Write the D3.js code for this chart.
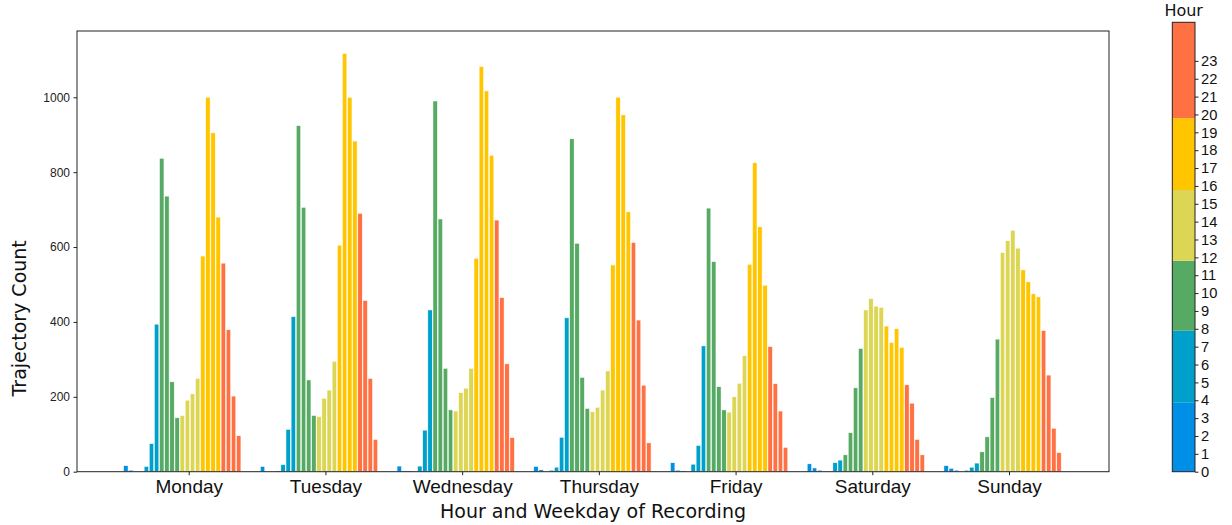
<!DOCTYPE html>
<html>
<head>
<meta charset="utf-8">
<script src="https://cdn.jsdelivr.net/npm/d3@7"></script>
<style>
  body { margin: 0; background: #fff; }
  svg { font-family: "DejaVu Sans", sans-serif; }
</style>
</head>
<body>
<div id="chart"></div>
<script>
const WIDTH = 1232;
const HEIGHT = 525;
const PLOT = { left: 77, right: 1109, top: 31, bottom: 471.7 };
const CBAR = { left: 1172.3, right: 1195, top: 22.3, bottom: 471.7 };
const DAY_STEP = 26.65;      // slots between the same hour on two days
const TICK_OFFSET = 13.26;   // where the weekday tick sits inside its group
const BAR_FILL = 0.86;

// --------------- Data ---------------
const days = ["Monday", "Tuesday", "Wednesday", "Thursday", "Friday", "Saturday", "Sunday"];
const hours = d3.range(24);

const monday    = [0, 16, 4, 0, 0, 14, 75, 394, 837, 736, 240, 144, 150, 191, 208, 249, 576, 1000, 905, 680, 557, 379, 202, 96];
const tuesday   = [0, 14, 0, 0, 2, 19, 113, 414, 924, 706, 245, 150, 147, 196, 218, 295, 605, 1117, 1000, 883, 690, 457, 249, 86];
const wednesday = [0, 15, 2, 2, 0, 15, 111, 432, 990, 675, 276, 165, 162, 211, 223, 276, 570, 1082, 1017, 845, 672, 465, 288, 91];
const thursday  = [0, 14, 5, 0, 4, 12, 92, 411, 889, 610, 252, 169, 160, 172, 218, 269, 552, 1000, 953, 694, 612, 405, 231, 77];
const friday    = [0, 24, 4, 2, 0, 20, 70, 336, 704, 561, 227, 165, 159, 200, 236, 310, 554, 825, 654, 498, 334, 235, 162, 65];
const saturday  = [0, 21, 10, 4, 0, 0, 24, 31, 45, 104, 224, 329, 432, 462, 442, 439, 389, 345, 382, 332, 232, 183, 86, 45];
const sunday    = [0, 16, 9, 4, 0, 4, 12, 23, 53, 93, 198, 354, 585, 617, 645, 597, 539, 507, 475, 467, 377, 258, 116, 51];

const yTicks = [0, 200, 400, 600, 800, 1000];
const cbarEdges = [0, 3.86, 7.89, 11.81, 15.77, 19.79, 25.16];

const groupColors = ["#008fe6", "#00a0cc", "#56aa64", "#dcd654", "#ffc600", "#ff7043"];

const counts = [monday, tuesday, wednesday, thursday, friday, saturday, sunday];
const bars = [];
counts.forEach((row, d) => {
  row.forEach((v, h) => bars.push({ day: d, hour: h, value: v }));
});

// --------------- Step 1 ---------------
// SVG and scales
const svg = d3
  .select("#chart")
  .append("svg")
  .attr("width", WIDTH)
  .attr("height", HEIGHT);

const x = d3.scaleLinear().domain([-8.52, 192.65]).range([PLOT.left, PLOT.right]);
const y = d3.scaleLinear().domain([0, 1177]).range([PLOT.bottom, PLOT.top]);
const color = h => groupColors[Math.floor(h / 4)];
const barW = (x(1) - x(0)) * BAR_FILL;

// --------------- Step 2 ---------------
// Bars
svg
  .append("g")
  .selectAll("rect")
  .data(bars)
  .enter()
  .append("rect")
  .attr("x", d => x(d.day * DAY_STEP + d.hour) - barW / 2)
  .attr("y", d => y(d.value))
  .attr("width", barW)
  .attr("height", d => y(0) - y(d.value))
  .attr("fill", d => color(d.hour))
  .attr("stroke", "#fff")
  .attr("stroke-width", 0.5);

// --------------- Step 3 ---------------
// Axes and frame
const yAxis = svg
  .append("g")
  .attr("transform", `translate(${PLOT.left},0)`)
  .call(d3.axisLeft(y).tickValues(yTicks).tickFormat(d3.format("d")).tickSize(3.5).tickPadding(3.5));

yAxis.select(".domain").remove();
yAxis.selectAll("text").attr("font-size", 12).attr("fill", "#222");
yAxis.selectAll("line").attr("stroke", "#222");

const xAxis = svg
  .append("g")
  .attr("transform", `translate(0,${PLOT.bottom})`)
  .call(
    d3.axisBottom(x)
      .tickValues(days.map((d, i) => i * DAY_STEP + TICK_OFFSET))
      .tickFormat((d, i) => days[i])
      .tickSize(3.5)
      .tickPadding(4.5)
  );

xAxis.select(".domain").remove();
xAxis.selectAll("text").attr("font-size", 19).attr("fill", "#111");
xAxis.selectAll("line").attr("stroke", "#222");

svg
  .append("rect")
  .attr("x", PLOT.left)
  .attr("y", PLOT.top)
  .attr("width", PLOT.right - PLOT.left)
  .attr("height", PLOT.bottom - PLOT.top)
  .attr("fill", "none")
  .attr("stroke", "#222")
  .attr("stroke-width", 1);

svg
  .append("text")
  .attr("x", (PLOT.left + PLOT.right) / 2)
  .attr("y", 518)
  .attr("text-anchor", "middle")
  .attr("font-size", 19)
  .attr("fill", "#111")
  .text("Hour and Weekday of Recording");

svg
  .append("text")
  .attr("transform", `translate(26,${(PLOT.top + PLOT.bottom) / 2 + 67}) rotate(-90)`)
  .attr("text-anchor", "middle")
  .attr("font-size", 19)
  .attr("fill", "#111")
  .text("Trajectory Count");

// --------------- Step 4 ---------------
// Colour bar on the right
const cb = d3.scaleLinear().domain([0, 25.16]).range([CBAR.bottom, CBAR.top]);

svg
  .append("g")
  .selectAll("rect")
  .data(groupColors)
  .enter()
  .append("rect")
  .attr("x", CBAR.left)
  .attr("y", (c, i) => cb(cbarEdges[i + 1]))
  .attr("width", CBAR.right - CBAR.left)
  .attr("height", (c, i) => cb(cbarEdges[i]) - cb(cbarEdges[i + 1]))
  .attr("fill", c => c);

svg
  .append("rect")
  .attr("x", CBAR.left)
  .attr("y", CBAR.top)
  .attr("width", CBAR.right - CBAR.left)
  .attr("height", CBAR.bottom - CBAR.top)
  .attr("fill", "none")
  .attr("stroke", "#222")
  .attr("stroke-width", 1);

const cbAxis = svg
  .append("g")
  .attr("transform", `translate(${CBAR.right},0)`)
  .call(d3.axisRight(cb).tickValues(hours).tickSize(3.5).tickPadding(2.5));

cbAxis.select(".domain").remove();
cbAxis.selectAll("text").attr("font-size", 14.7).attr("fill", "#111");
cbAxis.selectAll("line").attr("stroke", "#222");

svg
  .append("text")
  .attr("x", (CBAR.left + CBAR.right) / 2)
  .attr("y", 16)
  .attr("text-anchor", "middle")
  .attr("font-size", 16)
  .attr("fill", "#111")
  .text("Hour");
</script>
</body>
</html>
